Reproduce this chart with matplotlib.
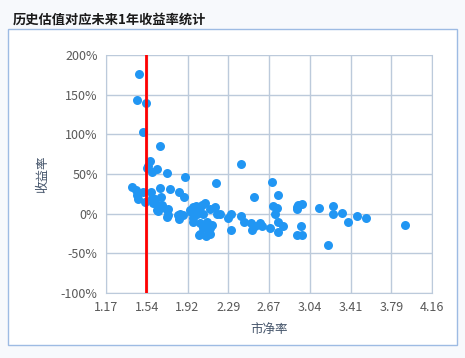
import numpy as np
import matplotlib
matplotlib.use("Agg")
import matplotlib.pyplot as plt
from matplotlib.patches import Rectangle

plt.rcParams['font.family'] = ['Noto Sans CJK SC', 'DejaVu Sans']

title = "历史估值对应未来1年收益率统计"
x_label = "市净率"
y_label = "收益率"
x_ticklabels = ["1.17", "1.54", "1.92", "2.29", "2.67", "3.04", "3.41", "3.79", "4.16"]
y_ticks = [-100, -50, 0, 50, 100, 150, 200]
current_pb = 1.54

# 市净率
pb = [1.473, 1.451, 1.534, 1.506, 1.662, 1.574, 1.543, 1.558, 1.589, 1.635,
      1.733, 1.895, 1.408, 1.442, 1.451, 1.467, 1.512, 1.528, 1.583, 1.589,
      1.665, 1.674, 1.754, 1.843, 1.882, 1.604, 1.650, 1.635, 1.687, 1.742,
      1.726, 1.644, 1.620, 1.849, 1.843, 1.879, 1.726, 1.741, 1.833, 1.680,
      1.940, 1.971, 2.001, 2.032, 2.078, 2.063, 2.124, 2.170, 2.185, 1.971,
      2.032, 2.093, 2.139, 2.109, 2.026, 2.087, 2.047, 2.001, 1.971, 2.124,
      2.062, 2.032, 2.124, 2.176, 2.000, 1.950, 2.215,
      2.405, 2.291, 2.316, 2.316, 2.405, 2.436, 2.497, 2.506, 2.537, 2.582,
      2.604, 2.674, 2.744, 2.796, 2.744, 2.690, 2.750, 2.527, 2.699, 2.735,
      2.720, 2.919, 2.919, 2.970, 2.958, 2.919, 2.970, 3.124, 3.249, 3.249,
      3.332, 3.392, 3.475, 3.551, 3.203, 3.915, 2.934]
# 未来1年收益率 (%)
ret = [176, 143, 139, 103, 85, 67, 58, 60, 53, 56,
       51, 46, 33, 30, 23, 19, 27, 15, 27, 20,
       32, 21, 31, 27, 21, 13, 11, 5, 9, 6,
       -4, 3, 18, 0, -7, -2, 4, -2, -2, 11,
       5, 9, 3, 9, 13, 0, 6, 9, -1, -10,
       -12, -10, -14, -21, -27, -28, 11, 0, -6, -18,
       -18, -25, -25, 39, 10, 2, 0,
       62, -5, 0, -20, -3, -11, -12, -20, -16, -12,
       -16, -18, -10, -15, -23, 40, 24, 21, 10, 7,
       0, 9, 6, 12, -16, -27, -27, 7, 10, -1,
       1, -11, -3, -6, -39, -14, 11]

fig = plt.figure(figsize=(4.65, 3.58), dpi=100, facecolor='#f7f9fc')
fig.patches.append(Rectangle((8 / 465, 1 - 345 / 358), 449 / 465, 316 / 358,
                             transform=fig.transFigure, facecolor='white',
                             edgecolor='#9dbbe3', linewidth=1.0, zorder=-5))
fig.text(13 / 465, 1 - 20 / 358, title, fontsize=9.5, fontweight='bold',
         color='#1a1a1a', va='center', ha='left')

ax = fig.add_axes([106 / 465, 1 - 293 / 358, 326 / 465, 238 / 358])
ax.set_zorder(2)
ax.set_facecolor('white')
grid_c = '#bccadb'
ax.scatter(pb, ret, s=42, color='#2196f3', zorder=3, linewidths=0)
ax.axvline(current_pb, color='#ff0000', lw=2, zorder=4)

ax.set_xlim(1.17, 4.16)
ax.set_ylim(-100, 200)
ax.set_xticks(np.linspace(1.17, 4.16, 9))
ax.set_xticklabels(x_ticklabels)
ax.set_yticks(y_ticks)
ax.set_yticklabels([f"{v}%" for v in y_ticks])
ax.grid(True, color=grid_c, lw=1)
ax.set_axisbelow(True)
for s in ax.spines.values():
    s.set_color(grid_c)
ax.spines['top'].set_visible(False)
ax.tick_params(length=0, labelsize=9, labelcolor='#595959', pad=6)

ax.set_xlabel(x_label, fontsize=9, color='#44546a', labelpad=6)
ax.set_ylabel(y_label, fontsize=9, color='#44546a', labelpad=8)

fig.savefig("out.png", dpi=100, facecolor=fig.get_facecolor())
